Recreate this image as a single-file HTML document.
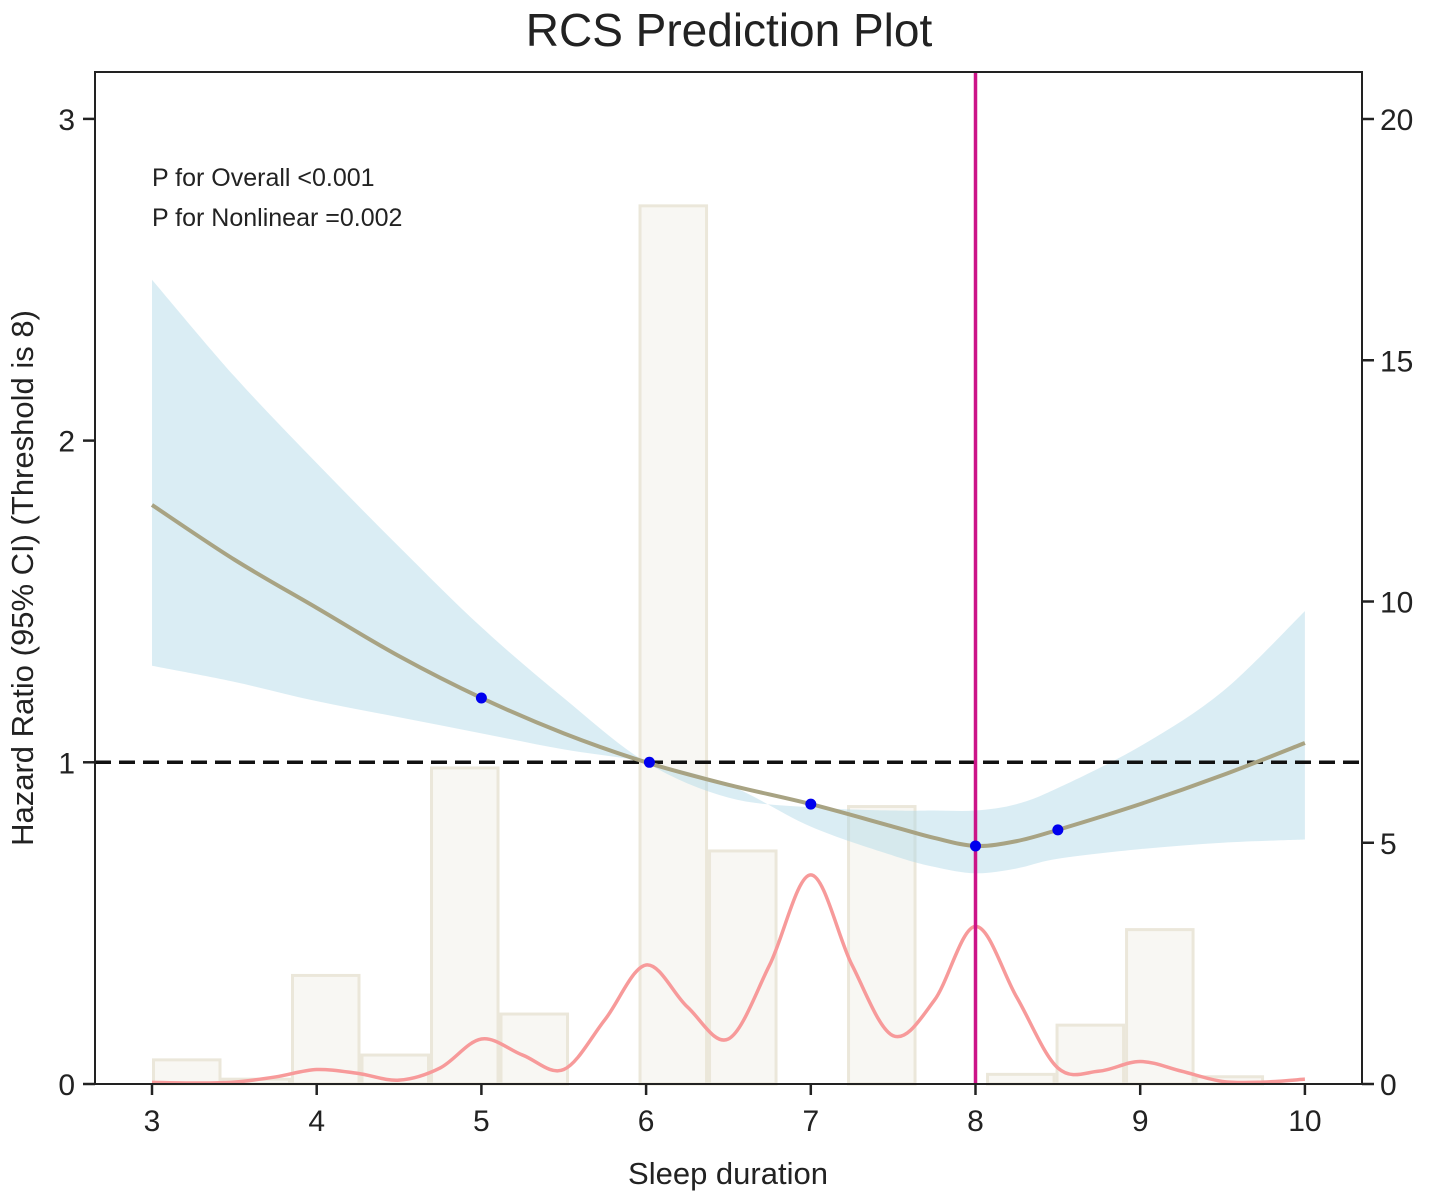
<!DOCTYPE html>
<html><head><meta charset="utf-8"><style>
body{margin:0;background:#fff;}
svg text{font-family:"Liberation Sans",sans-serif;fill:#222;}
</style></head><body>
<svg id="chart" width="1430" height="1199" xmlns="http://www.w3.org/2000/svg"></svg>
<script>
const xTicks=[3,4,5,6,7,8,9,10];
const yTicks=[0,1,2,3];
const y2Ticks=[0,5,10,15,20];
const binStart=3, binWidth=0.422;
const binCounts=[0.5,0.1,2.25,0.6,6.55,1.45,0,18.2,4.83,0,5.75,0,0.2,1.22,3.2,0.15];
const hrX=[3,3.5,4,4.5,5,5.5,6,6.5,7,7.5,7.75,8,8.25,8.5,9,9.5,10];
const hrY=[1.8,1.63,1.48,1.33,1.2,1.09,1.0,0.93,0.87,0.8,0.765,0.74,0.755,0.79,0.87,0.96,1.06];
const hrUp=[2.5,2.2,1.93,1.67,1.42,1.2,1.0,0.89,0.86,0.85,0.85,0.85,0.87,0.92,1.05,1.22,1.47];
const hrLo=[1.3,1.25,1.19,1.14,1.09,1.04,1.0,0.93,0.8,0.71,0.675,0.655,0.67,0.7,0.73,0.75,0.76];
const ptX=[5,6.02,7,8,8.5];
const ptY=[1.2,1.0,0.87,0.74,0.79];
const densX=[3,3.25,3.5,3.75,4,4.25,4.5,4.75,5,5.25,5.5,5.75,6,6.25,6.5,6.75,7,7.25,7.5,7.75,8,8.25,8.5,8.75,9,9.25,9.5,9.75,10];
const densY=[0.005,0.003,0.006,0.022,0.045,0.033,0.012,0.05,0.14,0.09,0.045,0.2,0.37,0.24,0.14,0.37,0.65,0.37,0.15,0.26,0.49,0.27,0.05,0.04,0.07,0.04,0.008,0.006,0.015];
const threshold=8;

const L=95,R=1362,T=72,B=1084;
const sx=v=>152+(v-3)*164.7;
const sy=v=>B-v*321.7;
const sy2=v=>B-v*48.25;
const svg=document.getElementById('chart');
const NS='http://www.w3.org/2000/svg';
function mk(tag,attrs,parent){const e=document.createElementNS(NS,tag);for(const k in attrs)e.setAttribute(k,attrs[k]);(parent||svg).appendChild(e);return e;}
function smooth(xs,ys){const p=xs.map((x,i)=>[sx(x),sy(ys[i])]);let d=`M${p[0][0]},${p[0][1]}`;
 for(let i=0;i<p.length-1;i++){const p0=p[i-1]||p[i],p1=p[i],p2=p[i+1],p3=p[i+2]||p2;
 d+=` C${p1[0]+(p2[0]-p0[0])/6},${p1[1]+(p2[1]-p0[1])/6} ${p2[0]-(p3[0]-p1[0])/6},${p2[1]-(p3[1]-p1[1])/6} ${p2[0]},${p2[1]}`;}return d;}

let t=mk('text',{x:729,y:46,'font-size':46,'text-anchor':'middle'});t.textContent='RCS Prediction Plot';


binCounts.forEach((c,i)=>{if(c<=0)return;const x0=sx(binStart+i*binWidth),x1=sx(binStart+(i+1)*binWidth);
 const r=mk('rect',{x:x0+1.5,y:sy2(c),width:x1-x0-3,height:B-sy2(c),fill:'#f8f7f3',stroke:'#ebe7da','stroke-width':3});
 });

const up=smooth(hrX,hrUp);const loRevX=[...hrX].reverse(),loRevY=[...hrLo].reverse();
const lo=smooth(loRevX,loRevY).replace(/^M/,'L');
let band=mk('path',{d:up+' '+lo+' Z',fill:'#add8e6','fill-opacity':0.45});


let dens=mk('path',{d:smooth(densX,densY),fill:'none',stroke:'#f79a9a','stroke-width':3.5});


let ref=mk('line',{x1:L,x2:R,y1:sy(1),y2:sy(1),stroke:'#111','stroke-width':3.5,'stroke-dasharray':'16,8'});


let hr=mk('path',{d:smooth(hrX,hrY),fill:'none',stroke:'#a8a383','stroke-width':4});


let vl=mk('line',{x1:sx(threshold),x2:sx(threshold),y1:T,y2:B,stroke:'#cc1488','stroke-width':3.5});


ptX.forEach((x,i)=>{const c=mk('circle',{cx:sx(x),cy:sy(ptY[i]),r:5.5,fill:'#0000ee'});
 });

let fr=mk('rect',{x:L,y:T,width:R-L,height:B-T,fill:'none',stroke:'#222','stroke-width':2});


xTicks.forEach(v=>{mk('line',{x1:sx(v),x2:sx(v),y1:B,y2:B+11,stroke:'#222','stroke-width':2.5});
 const e=mk('text',{x:sx(v),y:B+47,'font-size':30,'text-anchor':'middle'});e.textContent=v;
 });
yTicks.forEach(v=>{mk('line',{x1:L-12,x2:L,y1:sy(v),y2:sy(v),stroke:'#222','stroke-width':2.5});
 const e=mk('text',{x:L-20,y:sy(v)+11,'font-size':30,'text-anchor':'end'});e.textContent=v;
 });
y2Ticks.forEach(v=>{mk('line',{x1:R,x2:R+12,y1:sy2(v),y2:sy2(v),stroke:'#222','stroke-width':2.5});
 const e=mk('text',{x:R+18,y:sy2(v)+11,'font-size':30});e.textContent=v;
 });

let xl=mk('text',{x:728,y:1184,'font-size':31,'text-anchor':'middle'});xl.textContent='Sleep duration';

let yl=mk('text',{x:0,y:0,'font-size':31,'text-anchor':'middle',transform:'translate(33,578) rotate(-90)'});yl.textContent='Hazard Ratio (95% CI) (Threshold is 8)';

let a1=mk('text',{x:152,y:186,'font-size':25});a1.textContent='P for Overall <0.001';

let a2=mk('text',{x:152,y:226,'font-size':25});a2.textContent='P for Nonlinear =0.002';

</script>
</body></html>
